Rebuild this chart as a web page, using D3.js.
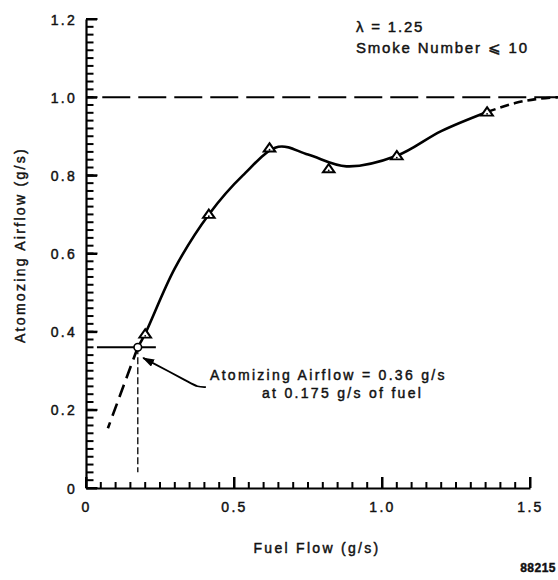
<!DOCTYPE html>
<html>
<head>
<meta charset="utf-8">
<script src="https://cdn.jsdelivr.net/npm/d3@7"></script>
<style>
  html, body { margin: 0; padding: 0; background: #fff; }
  svg { display: block; }
  text { font-family: "Liberation Sans", Arial, Helvetica, sans-serif; fill: #111; stroke: #111; stroke-width: 0.45px; }
</style>
</head>
<body>
<svg id="chart" width="558" height="580"></svg>
<script>
// Measured operating points (triangle symbols)
const fuelFlow = [0.2, 0.415, 0.62, 0.82, 1.05, 1.355];
const atomAir  = [0.392, 0.698, 0.868, 0.815, 0.848, 0.96];

// Faired curve through the measurements
const curveFuel = [0.175, 0.2, 0.3, 0.415, 0.53, 0.65, 0.75, 0.88, 1.05, 1.2, 1.355];
const curveAir  = [0.36, 0.395, 0.562, 0.70, 0.80, 0.873, 0.853, 0.823, 0.85, 0.913, 0.962];

// Extrapolated portions (dashed)
const upperFuel = [1.355, 1.45, 1.52, 1.6];
const upperAir  = [0.962, 0.985, 0.995, 1.0];
const lowerFuel = [0.175, 0.074];
const lowerAir  = [0.36, 0.153];

// Design point and limit
const designFuel = 0.175;
const designAir = 0.36;
const limitAir = 1.0;

// Arrow from the note to the design point
const arrowFuel = [0.405, 0.375, 0.355, 0.193];
const arrowAir  = [0.258, 0.259, 0.268, 0.333];

// Axis ticks
const xTickValues = [0, 0.5, 1.0, 1.5];
const xTickLabels = ["0", "0.5", "1.0", "1.5"];
const yTickValues = [0, 0.2, 0.4, 0.6, 0.8, 1.0, 1.2];
const yTickLabels = ["0", "0.2", "0.4", "0.6", "0.8", "1.0", "1.2"];
const xMinorStep = 0.05;
const yMinorStep = 0.02;

const svg = d3.select("#chart");
svg.append("rect").attr("width", 558).attr("height", 580).attr("fill", "#fff");

const x = d3.scaleLinear().domain([0, 1.5]).range([86, 530]);
const y = d3.scaleLinear().domain([0, 1.2]).range([488, 19]);

const ink = "#000";
const LS = "2.3px";

const xMinor = d3.range(0, 1.5 + 1e-9, xMinorStep);
const yMinor = d3.range(0, 1.2 + 1e-9, yMinorStep);

// ---- inward tick marks, drawn from the scales ----
const gt = svg.append("g").attr("fill", ink);
gt.selectAll(".xt").data(xMinor).join("rect").attr("class", "xt")
  .attr("x", d => x(d) - 1).attr("width", 2)
  .attr("y", y(0) - 6).attr("height", 6);
gt.selectAll(".xT").data(xTickValues).join("rect").attr("class", "xT")
  .attr("x", d => x(d) - 1).attr("width", 2)
  .attr("y", y(0) - 11).attr("height", 11);
gt.selectAll(".yt").data(yMinor).join("rect").attr("class", "yt")
  .attr("x", x(0)).attr("width", 7.5)
  .attr("y", d => y(d) - 1).attr("height", 2);
gt.selectAll(".yT").data(yTickValues).join("rect").attr("class", "yT")
  .attr("x", x(0)).attr("width", 11.5)
  .attr("y", d => y(d) - 1).attr("height", 2);

// ---- axes with labels ----
const gx = svg.append("g").attr("transform", `translate(0,${y(0)})`)
  .call(d3.axisBottom(x).tickValues(xTickValues).tickSizeInner(-11).tickSizeOuter(0)
    .tickPadding(16).tickFormat((d, i) => xTickLabels[i]));
const gy = svg.append("g").attr("transform", `translate(${x(0)},0)`)
  .call(d3.axisLeft(y).tickValues(yTickValues).tickSizeInner(-11).tickSizeOuter(0)
    .tickPadding(9).tickFormat((d, i) => yTickLabels[i]));

[gx, gy].forEach(g => {
  g.selectAll(".domain").attr("stroke", ink).attr("stroke-width", 2.2);
  g.selectAll(".tick line").attr("stroke", ink).attr("stroke-width", 2);
  g.selectAll(".tick text")
    .attr("fill", "#111")
    .style("font-family", '"Liberation Sans", Arial, sans-serif')
    .style("font-size", "14px")
    .style("letter-spacing", LS);
});
gx.selectAll(".tick text").attr("dy", "0.6em");
gy.selectAll(".tick text").attr("dy", "0.36em");

// ---- limit line at 1.0 ----
svg.append("line")
  .attr("x1", x(0.055)).attr("x2", x(1.6))
  .attr("y1", y(limitAir)).attr("y2", y(limitAir))
  .attr("stroke", ink).attr("stroke-width", 2)
  .attr("stroke-dasharray", "28,8");

// ---- curves ----
const pts = (xs, ys) => xs.map((v, i) => [v, ys[i]]);
const line = d3.line().x(d => x(d[0])).y(d => y(d[1]));

svg.append("path")
  .attr("d", line.curve(d3.curveCatmullRom.alpha(0.5))(pts(curveFuel, curveAir)))
  .attr("fill", "none").attr("stroke", ink).attr("stroke-width", 2.6)
  .attr("stroke-linejoin", "round").attr("stroke-linecap", "round");

svg.append("path")
  .attr("d", line.curve(d3.curveCatmullRom.alpha(0.5))(pts(upperFuel, upperAir)))
  .attr("fill", "none").attr("stroke", ink).attr("stroke-width", 2.6)
  .attr("stroke-dasharray", "9,5");

svg.append("path")
  .attr("d", line.curve(d3.curveLinear)(pts(lowerFuel, lowerAir)))
  .attr("fill", "none").attr("stroke", ink).attr("stroke-width", 2.6)
  .attr("stroke-dasharray", "13,7");

// ---- design point guides ----
svg.append("line")
  .attr("x1", x(0.037)).attr("x2", x(0.236))
  .attr("y1", y(designAir)).attr("y2", y(designAir))
  .attr("stroke", ink).attr("stroke-width", 2);

svg.append("line")
  .attr("x1", x(designFuel)).attr("x2", x(designFuel))
  .attr("y1", y(designAir)).attr("y2", y(0.04))
  .attr("stroke", ink).attr("stroke-width", 1.3)
  .attr("stroke-dasharray", "7,3");

svg.append("circle")
  .attr("cx", x(designFuel)).attr("cy", y(designAir)).attr("r", 3.8)
  .attr("fill", "#fff").attr("stroke", ink).attr("stroke-width", 1.6);

// ---- measured points ----
const tri = d3.symbol().type(d3.symbolTriangle).size(44);
const gp = svg.append("g");
pts(fuelFlow, atomAir).forEach(d => {
  gp.append("path")
    .attr("d", tri())
    .attr("transform", `translate(${x(d[0])},${y(d[1])}) scale(1.15,0.95)`)
    .attr("fill", "#fff").attr("stroke", ink).attr("stroke-width", 1.9)
    .attr("stroke-linejoin", "miter");
  gp.append("circle")
    .attr("cx", x(d[0])).attr("cy", y(d[1]) + 1).attr("r", 0.9).attr("fill", ink);
});

// ---- annotation arrow ----
svg.append("defs").append("marker")
  .attr("id", "arrowhead")
  .attr("markerUnits", "userSpaceOnUse")
  .attr("markerWidth", 12).attr("markerHeight", 8)
  .attr("refX", 11).attr("refY", 4)
  .attr("orient", "auto")
  .append("path").attr("d", "M0,0 L12,4 L0,8 Z").attr("fill", ink);

svg.append("path")
  .attr("d", line.curve(d3.curveBasis)(pts(arrowFuel, arrowAir)))
  .attr("fill", "none").attr("stroke", ink).attr("stroke-width", 1.8)
  .attr("marker-end", "url(#arrowhead)");

// ---- text ----
const txt = (s, px, py, opts = {}) => svg.append("text")
  .attr("x", px).attr("y", py)
  .attr("text-anchor", opts.anchor || "start")
  .style("font-size", (opts.size || 14) + "px")
  .style("letter-spacing", opts.ls || LS)
  .style("font-weight", opts.weight || "normal")
  .text(s);

txt("Atomizing Airflow = 0.36 g/s", 210, 380);
txt("at 0.175 g/s of fuel", 262, 398);

txt("λ = 1.25", 356, 32, { size: 15, ls: "1.8px" });
txt("Smoke Number ⩽ 10", 356, 53, { size: 15, ls: "1.8px" });

txt("Fuel Flow (g/s)", 317, 553, { anchor: "middle" });

svg.append("text")
  .attr("transform", "translate(25,245) rotate(-90)")
  .attr("text-anchor", "middle")
  .style("font-size", "14px")
  .style("letter-spacing", LS)
  .text("Atomozing Airflow (g/s)");

txt("88215", 556, 572, { anchor: "end", size: 12, ls: "0.5px", weight: "bold" });
</script>
</body>
</html>
